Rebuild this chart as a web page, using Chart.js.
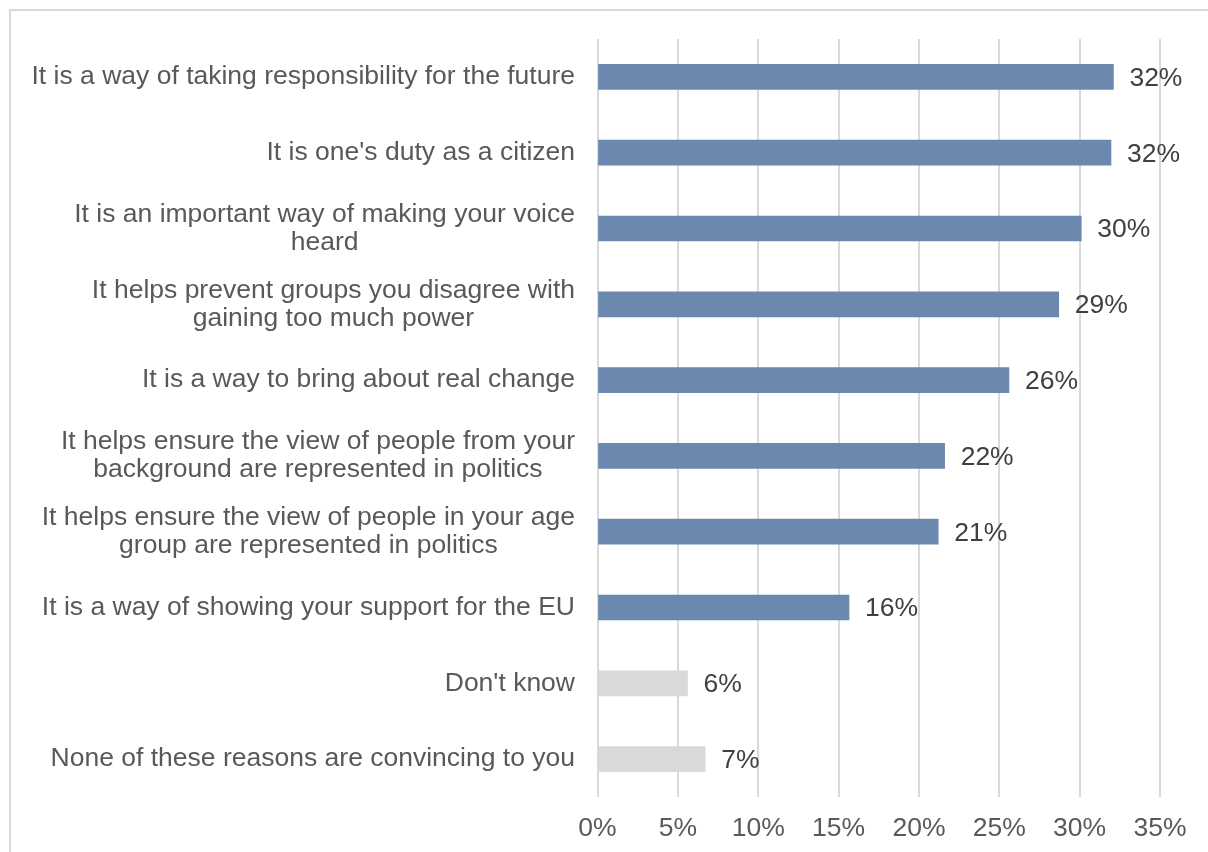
<!DOCTYPE html>
<html>
<head>
<meta charset="utf-8">
<script src="https://cdn.jsdelivr.net/npm/chart.js@4/dist/chart.umd.min.js"></script>
<style>
  html, body { margin: 0; padding: 0; background: #ffffff; }
  #wrap { position: relative; width: 1208px; height: 852px; overflow: hidden; }
  #frame { position: absolute; left: 9px; top: 9px; width: 1400px; height: 1000px;
           border-left: 2px solid #d9d9d9; border-top: 2px solid #d9d9d9; }
  #chart { position: absolute; left: 0; top: 0; }
</style>
</head>
<body>
<div id="wrap">
  <div id="frame"></div>
  <canvas id="chart" width="1208" height="852"></canvas>
</div>
<script>
// Reasons for voting, share of respondents (%)
const categories = [
  "It is a way of taking responsibility for the future",
  "It is one's duty as a citizen",
  ["It is an important way of making your voice", "heard"],
  ["It helps prevent groups you disagree with", "gaining too much power"],
  "It is a way to bring about real change",
  ["It helps ensure the view of people from your", "background are represented in politics"],
  ["It helps ensure the view of people in your age", "group are represented in politics"],
  "It is a way of showing your support for the EU",
  "Don't know",
  "None of these reasons are convincing to you"
];
const shares = [32.1, 31.95, 30.1, 28.7, 25.6, 21.6, 21.2, 15.65, 5.6, 6.7];
const tickValues = [0, 5, 10, 15, 20, 25, 30, 35];
const neutralAnswers = ["Don't know", "None of these reasons are convincing to you"];

const FONT = "'Liberation Sans', Arial, sans-serif";
const FONT_SIZE = 26.5;
const BAR_COLOR = "rgb(107,137,175)";
const NEUTRAL_COLOR = "#d9d9d9";

const barColors = categories.map(c => neutralAnswers.includes(c) ? NEUTRAL_COLOR : BAR_COLOR);
const pct = v => Math.round(v) + "%";

// Category labels: block right-aligned beside the axis, lines centred within the block
const categoryLabels = {
  id: "categoryLabels",
  afterDraw(chart) {
    const ctx = chart.ctx;
    const ys = chart.scales.y;
    ctx.save();
    ctx.font = FONT_SIZE + "px " + FONT;
    ctx.fillStyle = "#595959";
    ctx.textBaseline = "middle";
    ctx.textAlign = "center";
    const lineH = 28;
    categories.forEach((lab, i) => {
      const lines = Array.isArray(lab) ? lab : [lab];
      const w = Math.max(...lines.map(l => ctx.measureText(l).width));
      const cx = ys.right - 22.5 - w / 2;
      const cy = ys.getPixelForTick(i);
      lines.forEach((l, j) => {
        ctx.fillText(l, cx, cy + (j - (lines.length - 1) / 2) * lineH);
      });
    });
    ctx.restore();
  }
};

// Value labels at the end of each bar
const valueLabels = {
  id: "valueLabels",
  afterDatasetsDraw(chart) {
    const ctx = chart.ctx;
    const meta = chart.getDatasetMeta(0);
    ctx.save();
    ctx.font = FONT_SIZE + "px " + FONT;
    ctx.fillStyle = "#404040";
    ctx.textBaseline = "middle";
    ctx.textAlign = "left";
    meta.data.forEach((bar, i) => {
      ctx.fillText(pct(shares[i]), bar.x + 16, bar.y + 1.5);
    });
    ctx.restore();
  }
};

new Chart(document.getElementById("chart"), {
  type: "bar",
  data: {
    labels: categories,
    datasets: [{
      data: shares,
      backgroundColor: barColors,
      borderWidth: 0,
      barThickness: 25
    }]
  },
  options: {
    indexAxis: "y",
    responsive: false,
    animation: false,
    layout: { padding: { top: 39, right: 48, left: 0, bottom: 0 } },
    plugins: { legend: { display: false }, tooltip: { enabled: false } },
    scales: {
      x: {
        min: 0,
        max: 35,
        afterBuildTicks(scale) { scale.ticks = tickValues.map(v => ({ value: v })); },
        afterFit(scale) { scale.height = 55; },
        grid: { color: "#d9d9d9", lineWidth: 2, drawTicks: false },
        border: { display: false },
        ticks: {
          padding: 16,
          color: "#595959",
          font: { family: FONT, size: FONT_SIZE },
          callback: v => v + "%"
        }
      },
      y: {
        afterFit(scale) { scale.width = 597.5; },
        grid: { display: false, drawTicks: false },
        border: { display: false },
        ticks: { display: false }
      }
    }
  },
  plugins: [categoryLabels, valueLabels]
});
</script>
</body>
</html>
